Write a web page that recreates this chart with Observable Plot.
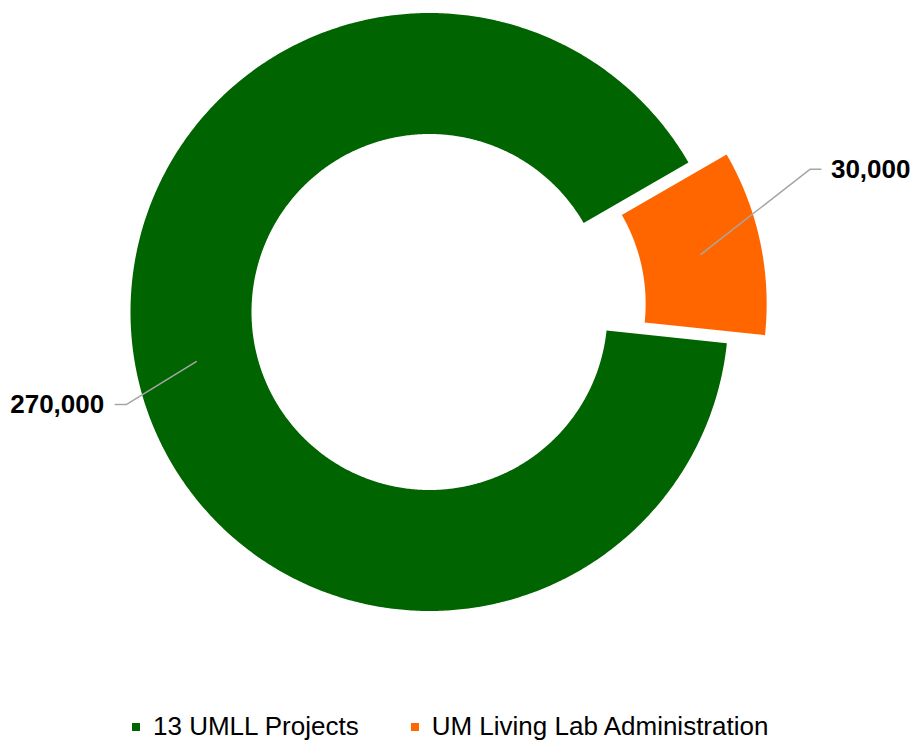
<!DOCTYPE html>
<html>
<head>
<meta charset="utf-8">
<script src="https://cdn.jsdelivr.net/npm/d3@7"></script>
<script src="https://cdn.jsdelivr.net/npm/@observablehq/plot@0.6"></script>
<style>
  html, body { margin: 0; padding: 0; background: #fff; }
  body { width: 912px; height: 742px; overflow: hidden; font-family: "Liberation Sans", Arial, sans-serif; }
  #chart svg { display: block; }
  #legend { display: flex; align-items: center; height: 30px; margin-top: 11px; padding-left: 132px; font-size: 26px; color: #000; white-space: nowrap; }
  #legend .item { display: flex; align-items: center; }
  #legend .sw { width: 8px; height: 8px; margin-right: 13px; margin-top: 2px; }
</style>
</head>
<body>
<div id="chart"></div>
<div id="legend"></div>
<script>
// ---- data ----
const categories = ["13 UMLL Projects", "UM Living Lab Administration"];
const values = [270000, 30000];
const colors = ["#006400", "#FF6600"];
const labelTexts = ["270,000", "30,000"];

// ---- layout ----
const W = 912, H = 700;
const cx = 429, cy = 311.5;
const outerR = 299, innerR = 178;
const explode = [0, 39];
const startAngle = 96 * Math.PI / 180;
// leader elbow offset from the slice's label anchor, label side
const leader = [
  {dx: -70, dy: 43, tail: -11, side: "end"},
  {dx: 109, dy: -85, tail: 11, side: "start"}
];

const pie = d3.pie().sort(null).startAngle(startAngle).endAngle(startAngle + 2 * Math.PI);
const arcs = pie(values);

const polar = (r, a) => [r * Math.sin(a), -r * Math.cos(a)];

const polyPts = [];
const leaderPts = [];
const labels = [];
arcs.forEach((d, i) => {
  const mid = (d.startAngle + d.endAngle) / 2;
  const [ox, oy] = polar(explode[i], mid);
  const n = Math.max(2, Math.ceil((d.endAngle - d.startAngle) / (Math.PI / 360)));
  const ring = [];
  for (let k = 0; k <= n; k++) {
    const a = d.startAngle + (d.endAngle - d.startAngle) * k / n;
    ring.push(polar(outerR, a));
  }
  for (let k = n; k >= 0; k--) {
    const a = d.startAngle + (d.endAngle - d.startAngle) * k / n;
    ring.push(polar(innerR, a));
  }
  ring.forEach(([x, y], j) => polyPts.push({cat: categories[i], x: x + ox, y: y + oy, j}));
  // leader
  const [sx, sy] = polar((outerR + innerR) / 2, mid);
  const p0 = [sx + ox, sy + oy];
  const L = leader[i];
  const p1 = [p0[0] + L.dx, p0[1] + L.dy];
  const p2 = [p1[0] + L.tail, p1[1]];
  [p0, p1, p2].forEach(([x, y], j) => leaderPts.push({cat: categories[i], x, y, j}));
  labels.push({text: labelTexts[i], x: p2[0] + (L.side === "start" ? 10 : -11), y: p2[1], side: L.side});
});

const chart = Plot.plot({
  width: W,
  height: H,
  margin: 0,
  x: {domain: [-cx, W - cx], range: [0, W], axis: null},
  y: {domain: [-cy, H - cy], range: [0, H], axis: null},
  color: {domain: categories, range: colors},
  marks: [
    Plot.line(polyPts, {x: "x", y: "y", z: "cat", fill: "cat", stroke: "none", curve: "linear-closed"}),
    Plot.line(leaderPts, {x: "x", y: "y", z: "cat", stroke: "#a6a6a6", strokeWidth: 1.5}),
    Plot.text(labels.filter(d => d.side === "start"), {x: "x", y: "y", text: "text", textAnchor: "start", fontSize: 26, fontWeight: "bold", fill: "#000"}),
    Plot.text(labels.filter(d => d.side === "end"), {x: "x", y: "y", text: "text", textAnchor: "end", fontSize: 26, fontWeight: "bold", fill: "#000"})
  ],
  style: {fontFamily: "'Liberation Sans', Arial, sans-serif", background: "#fff"}
});
document.getElementById("chart").appendChild(chart);

const legend = d3.select("#legend");
categories.forEach((c, i) => {
  const item = legend.append("div").attr("class", "item").style("margin-right", i === 0 ? "52px" : "0");
  item.append("div").attr("class", "sw").style("background", colors[i]);
  item.append("span").text(c);
});
</script>
</body>
</html>
